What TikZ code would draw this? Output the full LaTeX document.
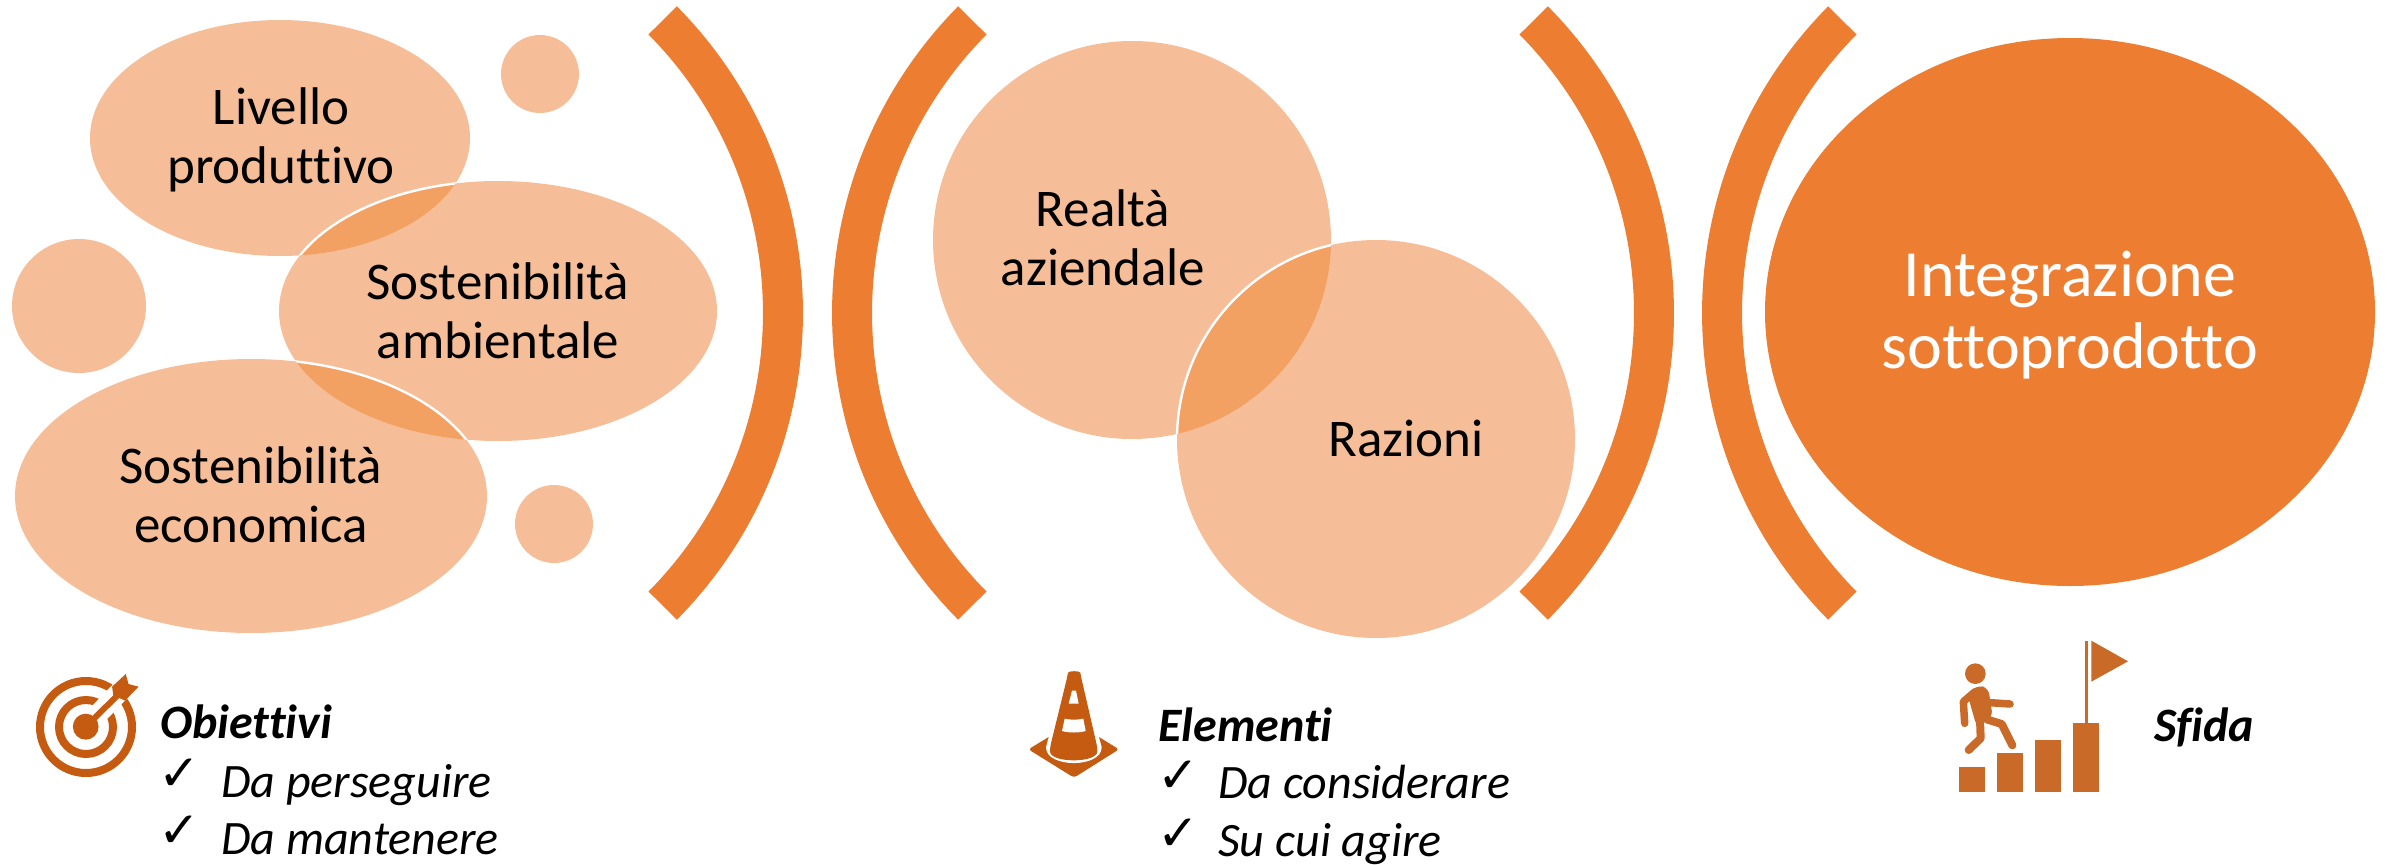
\documentclass[tikz,border=0pt]{standalone}
\usepackage{fontspec}
\setmainfont[Ligatures=NoCommon]{Carlito}
\newfontfamily\checkfont{DejaVu Sans}
\definecolor{softo}{HTML}{F6BE98}
\definecolor{lenso}{HTML}{F3A063}
\definecolor{maino}{HTML}{ED7D31}
\definecolor{icono}{HTML}{C55A11}
\definecolor{iconb}{HTML}{C96A29}
\newcommand{\bracketR}[1]{\fill[maino] (#1,313) ++(-44.7:436) arc[start angle=-44.7,end angle=44.7,radius=436] -- ([shift={(#1,313)}]44.7:396) arc[start angle=44.7,end angle=-44.7,radius=396] -- cycle;}
\newcommand{\bracketL}[1]{\fill[maino] (#1,313) ++(135.3:436) arc[start angle=135.3,end angle=224.7,radius=436] -- ([shift={(#1,313)}]224.7:396) arc[start angle=224.7,end angle=135.3,radius=396] -- cycle;}
\tikzset{
  lbl/.style={font=\fontsize{53bp}{59bp}\selectfont,align=center,text=black,inner sep=0pt},
  big/.style={font=\fontsize{66bp}{72bp}\selectfont,align=center,text=white,inner sep=0pt},
  head/.style={font=\fontsize{48bp}{54bp}\selectfont\bfseries\itshape,anchor=base west,inner sep=0pt},
  item/.style={font=\fontsize{48bp}{54bp}\selectfont\itshape,anchor=base west,inner sep=0pt},
  tick/.style={font=\fontsize{50bp}{54bp}\selectfont\checkfont,anchor=base west,inner sep=0pt},
  seam/.style={white,line width=2.4bp}
}
\begin{document}
\begin{tikzpicture}[x=1bp,y=-1bp]
\useasboundingbox (0,0) rectangle (2387,864);
% small circles
\fill[softo] (540,74) circle[radius=39];
\fill[softo] (79,306) circle[radius=67];
\fill[softo] (554,524) circle[radius=39];
% three ellipses
\fill[softo] (280,138) ellipse[x radius=190,y radius=118];
\fill[softo] (498,311) ellipse[x radius=219,y radius=130];
\fill[softo] (251,496) ellipse[x radius=236,y radius=137];
\begin{scope}
  \clip (280,138) ellipse[x radius=190,y radius=118];
  \fill[lenso] (498,311) ellipse[x radius=219,y radius=130];
  \draw[seam] (498,311) ellipse[x radius=219,y radius=130];
\end{scope}
\begin{scope}
  \clip (498,311) ellipse[x radius=219,y radius=130];
  \fill[lenso] (251,496) ellipse[x radius=236,y radius=137];
  \draw[seam] (251,496) ellipse[x radius=236,y radius=137];
\end{scope}
% two circles
\fill[softo] (1132,240) circle[radius=199];
\fill[softo] (1376,439) circle[radius=199];
\begin{scope}
  \clip (1132,240) circle[radius=199];
  \fill[lenso] (1376,439) circle[radius=199];
  \draw[seam] (1376,439) circle[radius=199];
\end{scope}
% big ellipse
\fill[maino] (2070,312) ellipse[x radius=305,y radius=274];
% brackets
\bracketR{367}
\bracketL{1268}
\bracketR{1238}
\bracketL{2138}
% labels
\node[lbl] (liv) at (281,140) {Livello\\produttivo};
\node[lbl] (amb) at (498,311) {Sostenibilità\\ambientale};
\node[lbl] (eco) at (251,495) {Sostenibilità\\economica};
\node[lbl] (rea) at (1103,238) {Realtà\\aziendale};
\node[lbl] (raz) at (1406,438) {Razioni};
\node[big] (int) at (2070,315) {Integrazione\\sottoprodotto};
% target icon
\draw[icono,line width=8bp] (86,727) circle[radius=46];
\draw[icono,line width=8bp] (86,727) circle[radius=27];
\begin{scope}[shift={(0,640)},xscale=1/2.8,yscale=1/3]
  \draw[white,line width=20bp] (240,260) -- (340,150);
  \fill[icono] (240,260) circle[x radius=36,y radius=39];
  \draw[icono,line width=6bp] (240,260) -- (335,160);
  \fill[icono] (352,102) -- (360,132) -- (388,140) -- (350,182) -- (317,165) -- (314,140) -- cycle;
\end{scope}
% cone icon
\begin{scope}[shift={(1000,660)},scale=1/3]
  \fill[icono,rounded corners=3bp] (85,268) -- (222,185) -- (357,268) -- (222,353) -- cycle;
  \fill[white] (138,262) -- (196,40) -- (248,40) -- (305,262) .. controls (305,325) and (138,325) .. (138,262) -- cycle;
  \fill[icono,rounded corners=4bp] (202,50) .. controls (205,32) and (240,32) .. (243,50) -- (292,262) .. controls (292,310) and (150,310) .. (150,262) -- cycle;
  \fill[white] (216,92) -- (228,92) -- (236,131) -- (206,131) -- cycle;
  \fill[white] (194,176) .. controls (210,180) and (234,180) .. (250,176) -- (257,213) .. controls (236,219) and (207,219) .. (186,213) -- cycle;
\end{scope}
% stairs and flag icon
\begin{scope}[shift={(1880,620)},scale=1/3]
  \fill[iconb] (238,440) rectangle (316,517);
  \fill[iconb] (352,400) rectangle (430,517);
  \fill[iconb] (466,360) rectangle (544,517);
  \fill[iconb] (580,310) rectangle (658,517);
  \fill[iconb] (614,62) rectangle (624,312);
  \fill[iconb] (634,62) -- (744,124) -- (634,185) -- cycle;
  \fill[iconb] (286,161) circle[radius=31];
  \fill[iconb,rounded corners=6bp] (262,222) -- (295,195) -- (325,205) -- (338,290) -- (290,320) -- cycle;
  \draw[iconb,line width=7.5bp,line cap=round,line join=round] (285,215) -- (250,245) -- (254,310);
  \draw[iconb,line width=7.5bp,line cap=round,line join=round] (330,248) -- (390,252);
  \draw[iconb,line width=8bp,line cap=round,line join=round] (300,300) -- (302,355) -- (266,390);
  \draw[iconb,line width=8bp,line cap=round,line join=round] (320,298) -- (365,312) -- (397,376);
\end{scope}
% captions
\node[head] (obi) at (160,738) {Obiettivi};
\node[tick] (t1) at (158,790) {✓};
\node[item] (per) at (221,797) {Da perseguire};
\node[tick] (t2) at (158,847) {✓};
\node[item] (man) at (221,854) {Da mantenere};
\node[head] (ele) at (1158,741) {Elementi};
\node[tick] (t3) at (1157,792) {✓};
\node[item] (con) at (1218,798) {Da considerare};
\node[tick] (t4) at (1157,850) {✓};
\node[item] (agi) at (1218,856) {Su cui agire};
\node[head] (sfi) at (2154,741) {Sfida};
\end{tikzpicture}
\end{document}
